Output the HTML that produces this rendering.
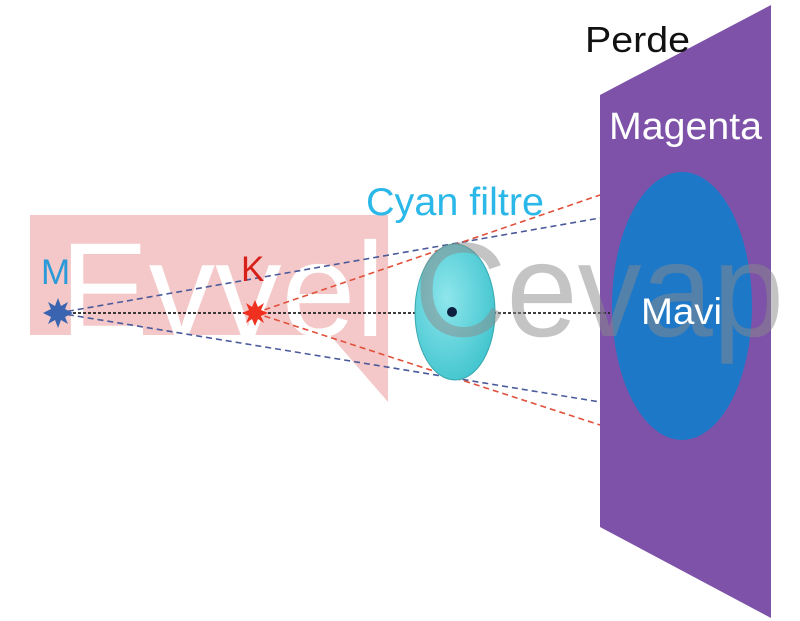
<!DOCTYPE html>
<html><head><meta charset="utf-8"><style>
html,body{margin:0;padding:0;background:#fff;}
svg{display:block;}
text{font-family:"Liberation Sans",sans-serif;}
</style></head><body>
<svg width="800" height="621" viewBox="0 0 800 621" xmlns="http://www.w3.org/2000/svg">
<defs>
<radialGradient id="lens" cx="0.4" cy="0.4" r="0.7">
<stop offset="0" stop-color="#8ee6ec"/><stop offset="1" stop-color="#3cc2cc"/>
</radialGradient>
</defs>
<rect x="30" y="215" width="358" height="120" fill="#f4c8c8"/>
<polygon points="330,335 388,335 388,402" fill="#f4c8c8"/>
<text x="60" y="336" font-size="134" fill="#fff" textLength="325" lengthAdjust="spacingAndGlyphs">Evvel</text>
<polygon points="600,95 771,5 771,618 600,527" fill="#7d52a8"/>
<ellipse cx="682" cy="306" rx="70" ry="134" fill="#1e78c8"/>
<g fill="none" stroke-width="1.6" stroke-dasharray="6,4">
<line x1="58" y1="313" x2="600" y2="218" stroke="#4a5a9a"/>
<line x1="58" y1="313" x2="600" y2="402" stroke="#4a5a9a"/>
<line x1="255" y1="313" x2="600" y2="195" stroke="#e0503a"/>
<line x1="255" y1="313" x2="600" y2="425" stroke="#e0503a"/>
</g>
<line x1="58" y1="313" x2="610" y2="313" stroke="#222" stroke-width="1.8" stroke-dasharray="3,2"/>
<ellipse cx="455" cy="312" rx="40" ry="68" fill="url(#lens)" stroke="#3aa8b0" stroke-width="1"/>
<circle cx="452" cy="312" r="5" fill="#0e2040"/>
<text x="414" y="336" font-size="134" fill="#8a8a8a" fill-opacity="0.5" textLength="370" lengthAdjust="spacingAndGlyphs">Cevap</text>
<polygon points="58,298 61,306 68,302 65,309 73,313 65,317 68,324 61,320 58,328 55,320 48,324 51,317 43,313 51,309 48,302 55,306" fill="#3a64b0"/>
<polygon points="255,300 258,307 264,303 261,310 268,313 261,316 264,323 258,319 255,326 252,319 246,323 249,316 242,313 249,310 246,303 252,307" fill="#f0301e"/>
<text x="41" y="284" font-size="35" fill="#2a9ad8">M</text>
<text x="241" y="281" font-size="35" fill="#d8201a">K</text>
<text x="366" y="215" font-size="39" fill="#2bb8e8" textLength="178" lengthAdjust="spacingAndGlyphs">Cyan filtre</text>
<text x="585" y="52" font-size="36" fill="#111" textLength="105" lengthAdjust="spacingAndGlyphs">Perde</text>
<text x="609" y="139" font-size="38" fill="#fff" textLength="153" lengthAdjust="spacingAndGlyphs">Magenta</text>
<text x="641" y="324" font-size="37" fill="#fff" textLength="81" lengthAdjust="spacingAndGlyphs">Mavi</text>
</svg>
</body></html>
